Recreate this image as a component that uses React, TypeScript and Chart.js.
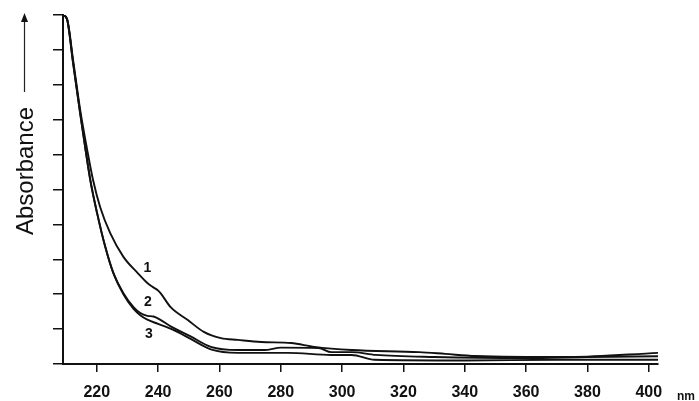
import React, { useEffect, useRef } from "react";
import { Chart, registerables } from "chart.js";

Chart.register(...registerables);

// Wavelength (nm) and absorbance values
const nm1 = [209, 210.3, 212.3, 214.6, 216.9, 218.8, 221.1, 224.4, 228.7, 233.3, 236.5, 238.2, 239.8, 240.8, 244.1, 249.7, 254.9, 260.5, 266, 273.6, 283.4, 291, 303.1, 325.1, 333.6, 343.4, 374.2, 403];
const abs1 = [10.0, 9.9, 8.71, 7.28, 6.13, 5.27, 4.5, 3.75, 3.07, 2.61, 2.32, 2.21, 2.12, 2.03, 1.63, 1.26, 0.92, 0.74, 0.69, 0.63, 0.6, 0.49, 0.4, 0.34, 0.29, 0.23, 0.2, 0.32];

const nm2 = [209, 210.3, 212.3, 214.6, 216.5, 217.9, 220.1, 222.8, 225.4, 228.7, 232, 234.2, 236.5, 238.5, 240.5, 244.1, 250.6, 257.2, 266, 274.6, 280.1, 292.3, 296.5, 303.1, 311, 330, 360, 380, 403];
const abs2 = [10.0, 9.88, 8.62, 7.18, 6.05, 5.27, 4.33, 3.35, 2.61, 2.03, 1.63, 1.46, 1.38, 1.36, 1.28, 1.08, 0.79, 0.49, 0.4, 0.4, 0.47, 0.46, 0.34, 0.34, 0.26, 0.2, 0.17, 0.2, 0.22];

const nm3 = [209, 210.3, 212.3, 214.6, 216.5, 217.9, 220.1, 222.8, 225.4, 228.7, 232, 234.2, 236.5, 240, 245.1, 250.6, 257.2, 266, 282.4, 296.5, 303.1, 310.6, 340, 370, 403];
const abs3 = [10.0, 9.88, 8.62, 7.18, 6.05, 5.27, 4.33, 3.35, 2.61, 2.0, 1.58, 1.4, 1.27, 1.15, 0.97, 0.72, 0.42, 0.32, 0.32, 0.26, 0.26, 0.12, 0.1, 0.12, 0.12];

const xTicks = [220, 240, 260, 280, 300, 320, 340, 360, 380, 400];
const curveLabels = ["1", "2", "3"];
const labelX = [236.5, 236.7, 237];
const labelY = [2.75, 1.78, 0.86];

const yTitle = "Absorbance";
const xUnit = "nm";

export default function App() {
  const ref = useRef<HTMLCanvasElement | null>(null);

  useEffect(() => {
    if (!ref.current) return;
    const mk = (xs: number[], ys: number[]) => xs.map((x, i) => ({ x, y: ys[i] }));
    const ds = (xs: number[], ys: number[]) => ({
      data: mk(xs, ys),
      borderColor: "#111",
      borderWidth: 1.9,
      pointRadius: 0,
      cubicInterpolationMode: "monotone" as const,
      fill: false,
    });

    const decor = {
      id: "decor",
      afterDraw(chart: any) {
        const ctx = chart.ctx;
        const xs = chart.scales.x;
        const ys = chart.scales.y;
        ctx.save();
        ctx.fillStyle = "#111";
        ctx.font = "bold 14px 'Liberation Sans', Arial, sans-serif";
        ctx.textAlign = "center";
        ctx.textBaseline = "middle";
        curveLabels.forEach((t, i) => {
          ctx.fillText(t, xs.getPixelForValue(labelX[i]), ys.getPixelForValue(labelY[i]));
        });
        // y title rotated
        ctx.save();
        ctx.translate(33, 171);
        ctx.rotate(-Math.PI / 2);
        ctx.font = "24px 'Liberation Sans', Arial, sans-serif";
        ctx.textAlign = "center";
        ctx.textBaseline = "alphabetic";
        ctx.fillText(yTitle, 0, 0);
        ctx.restore();
        // arrow
        ctx.strokeStyle = "#222";
        ctx.lineWidth = 1.2;
        ctx.beginPath();
        ctx.moveTo(24.5, 92);
        ctx.lineTo(24.5, 20);
        ctx.stroke();
        ctx.beginPath();
        ctx.moveTo(24.5, 13);
        ctx.lineTo(21, 22);
        ctx.lineTo(28, 22);
        ctx.closePath();
        ctx.fill();
        // unit
        ctx.font = "bold 12px 'Liberation Sans Narrow', Arial, sans-serif";
        ctx.textAlign = "left";
        ctx.fillText(xUnit, 677, 397);
        ctx.restore();
      },
    };

    const chart = new Chart(ref.current, {
      type: "line",
      data: {
        datasets: [ds(nm1, abs1), ds(nm2, abs2), ds(nm3, abs3)],
      },
      options: {
        animation: false,
        responsive: false,
        layout: { padding: { top: 15, right: 41, left: 0, bottom: 0 } },
        plugins: { legend: { display: false }, tooltip: { enabled: false } },
        scales: {
          x: {
            type: "linear",
            min: 209,
            max: 403,
            afterBuildTicks: (s: any) => {
              s.ticks = xTicks.map((v) => ({ value: v }));
            },
            afterFit: (s: any) => {
              s.height = 37;
            },
            ticks: {
              color: "#111",
              padding: 11,
              font: { family: "'Liberation Sans Narrow', Arial, sans-serif", size: 16, weight: "bold" },
              maxRotation: 0,
            },
            grid: { drawOnChartArea: false, tickLength: 8, color: "#111", lineWidth: 1.5 },
            border: { color: "#111", width: 2 },
          },
          y: {
            type: "linear",
            min: 0,
            max: 10,
            afterBuildTicks: (s: any) => {
              const t: any[] = [];
              for (let v = 0; v <= 10; v++) t.push({ value: v });
              s.ticks = t;
            },
            afterFit: (s: any) => {
              s.width = 63;
            },
            ticks: { display: true, callback: () => "", padding: 0 },
            grid: { drawOnChartArea: false, tickLength: 10, color: "#111", lineWidth: 1.5 },
            border: { color: "#111", width: 2 },
          },
        },
      },
      plugins: [decor],
    } as any);
    return () => chart.destroy();
  }, []);

  return (
    <div style={{ position: "fixed", left: 0, top: 0, width: 699, height: 401, background: "#fff" }}>
      <canvas ref={ref} width={699} height={401} style={{ width: 699, height: 401 }} />
    </div>
  );
}
